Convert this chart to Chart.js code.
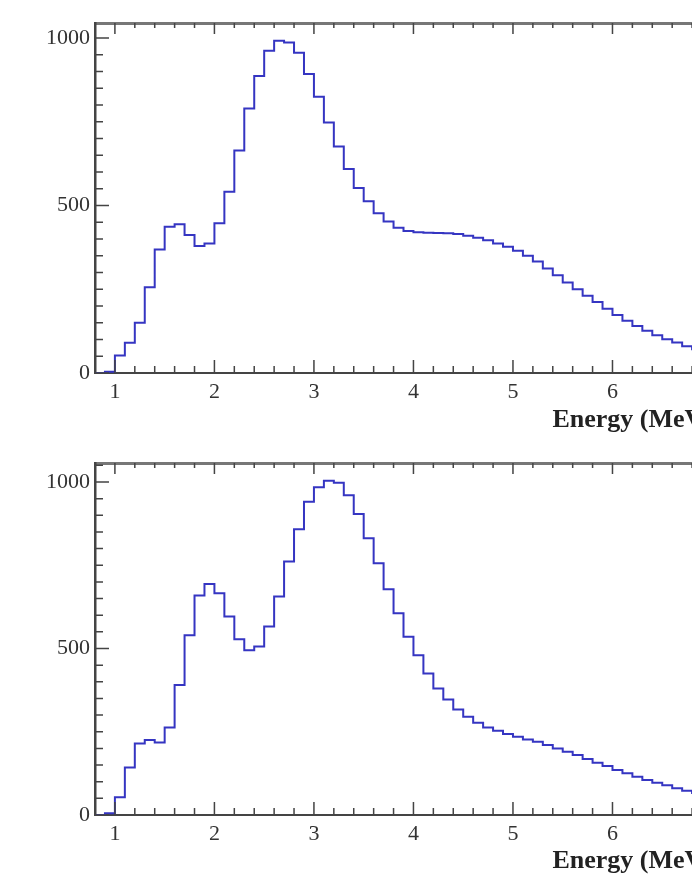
<!DOCTYPE html>
<html>
<head>
<meta charset="utf-8">
<script src="https://cdn.jsdelivr.net/npm/chart.js@4.4.1/dist/chart.umd.min.js"></script>
<style>
  html, body { margin: 0; padding: 0; background: #fff; }
  #wrap { position: relative; width: 692px; height: 875px; overflow: hidden; }
  canvas { position: absolute; left: 0; }
  #topChart { top: 0; }
  #bottomChart { top: 440px; }
</style>
</head>
<body>
<div id="wrap">
  <canvas id="topChart" width="760" height="440"></canvas>
  <canvas id="bottomChart" width="760" height="450"></canvas>
</div>
<script>
// bin edges (MeV), 0.1 MeV wide
const binEdges = [
  0.8, 0.9, 1.0, 1.1, 1.2, 1.3, 1.4, 1.5, 1.6, 1.7, 1.8, 1.9,
  2.0, 2.1, 2.2, 2.3, 2.4, 2.5, 2.6, 2.7, 2.8, 2.9,
  3.0, 3.1, 3.2, 3.3, 3.4, 3.5, 3.6, 3.7, 3.8, 3.9,
  4.0, 4.1, 4.2, 4.3, 4.4, 4.5, 4.6, 4.7, 4.8, 4.9,
  5.0, 5.1, 5.2, 5.3, 5.4, 5.5, 5.6, 5.7, 5.8, 5.9,
  6.0, 6.1, 6.2, 6.3, 6.4, 6.5, 6.6, 6.7, 6.8, 6.9, 7.0
];

// counts per bin, upper panel
const topCounts = [
  0, 4, 52, 90, 150, 256, 369, 437, 444, 412, 379, 387,
  447, 541, 664, 790, 887, 962, 992, 987, 956, 893,
  825, 748, 676, 609, 552, 513, 477, 452, 434, 424,
  420, 419, 418, 417, 415, 410, 404, 396, 387, 377,
  365, 350, 333, 312, 292, 270, 250, 231, 212, 192,
  173, 156, 140, 126, 113, 101, 91, 80, 71, 63
];

// counts per bin, lower panel
const bottomCounts = [
  0, 5, 53, 143, 215, 225, 218, 263, 390, 540, 659, 694,
  666, 596, 528, 495, 506, 566, 656, 761, 858, 941,
  984, 1004, 998, 960, 904, 831, 756, 678, 606, 535,
  480, 425, 380, 347, 317, 295, 277, 263, 253, 243,
  235, 227, 220, 210, 200, 190, 180, 168, 157, 147,
  135, 125, 115, 105, 97, 89, 80, 73, 66, 60
];

const xTickLabels = [1, 2, 3, 4, 5, 6, 7];
const yTickLabels = [0, 500, 1000];
const xTitle = "Energy (MeV)";

const lineColor = "#3535c2";
const axisColor = "#444";
const serif = "'Liberation Serif', 'DejaVu Serif', serif";

Chart.defaults.font.family = serif;
Chart.defaults.color = "#333";

// ROOT-style ticks drawn inside the frame
const innerTicks = {
  id: "innerTicks",
  afterDraw(chart) {
    const { ctx, chartArea } = chart;
    const xs = chart.scales.x, ys = chart.scales.y;
    ctx.save();
    ctx.strokeStyle = axisColor;
    ctx.lineWidth = 1.5;
    ctx.beginPath();
    for (let i = 0; i <= 31; i++) {
      const v = 0.8 + i * 0.2;
      const px = xs.getPixelForValue(v);
      const major = Math.abs(v - Math.round(v)) < 1e-6;
      ctx.moveTo(px, chartArea.bottom);
      ctx.lineTo(px, chartArea.bottom - (major ? 13 : 7));
      ctx.moveTo(px, chartArea.top);
      ctx.lineTo(px, chartArea.top + (major ? 11 : 5));
    }
    for (let v = 0; v <= ys.max; v += 50) {
      const py = ys.getPixelForValue(v);
      const len = v % 500 === 0 ? 14 : 8;
      ctx.moveTo(chartArea.left, py);
      ctx.lineTo(chartArea.left + len, py);
    }
    ctx.stroke();
    ctx.restore();
  }
};

function makeHist(canvasId, counts, yMax, axisHeight, titlePad) {
  // each count holds from its lower edge to the next edge
  const points = counts.map((c, i) => ({ x: binEdges[i], y: c }));
  points.push({ x: binEdges[binEdges.length - 1], y: counts[counts.length - 1] });

  return new Chart(document.getElementById(canvasId), {
    type: "line",
    data: {
      datasets: [{
        data: points,
        stepped: "before",
        borderColor: lineColor,
        borderWidth: 2,
        pointRadius: 0,
        fill: false,
      }],
    },
    options: {
      responsive: false,
      animation: false,
      devicePixelRatio: 1,
      layout: { padding: { left: 0, right: 48, top: 0, bottom: 0 } },
      plugins: { legend: { display: false }, tooltip: { enabled: false } },
      scales: {
        x: {
          type: "linear",
          position: "bottom",
          min: 0.8,
          max: 7.0,
          afterBuildTicks: (s) => { s.ticks = xTickLabels.map((v) => ({ value: v })); },
          afterFit: (s) => { s.height = axisHeight; },
          ticks: {
            autoSkip: false,
            maxRotation: 0,
            padding: 6,
            font: { size: 22 },
            callback: (v) => String(v),
          },
          grid: { drawOnChartArea: false, drawTicks: false },
          border: { display: true, color: axisColor, width: 2 },
          title: {
            display: true,
            text: xTitle,
            align: "end",
            color: "#222",
            font: { size: 26, weight: "bold" },
            padding: { top: 0, bottom: titlePad },
          },
        },
        xTop: {
          type: "linear",
          position: "top",
          min: 0.8,
          max: 7.0,
          afterFit: (s) => { s.height = 23; },
          ticks: { display: false },
          grid: { drawOnChartArea: false, drawTicks: false },
          border: { display: true, color: "#777", width: 3 },
        },
        y: {
          type: "linear",
          min: 0,
          max: yMax,
          afterBuildTicks: (s) => { s.ticks = yTickLabels.map((v) => ({ value: v })); },
          afterFit: (s) => { s.width = 95; },
          ticks: {
            autoSkip: false,
            padding: 5,
            font: { size: 22 },
            callback: (v) => String(v),
          },
          grid: { drawOnChartArea: false, drawTicks: false },
          border: { display: true, color: axisColor, width: 2.5 },
        },
      },
    },
    plugins: [innerTicks],
  });
}

makeHist("topChart", topCounts, 1045, 67, 4);
makeHist("bottomChart", bottomCounts, 1057, 75, 13);
</script>
</body>
</html>
